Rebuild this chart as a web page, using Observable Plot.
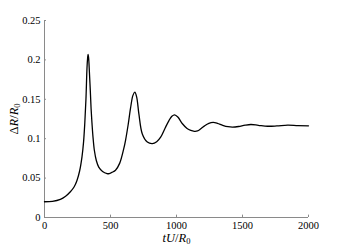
<!DOCTYPE html>
<html>
<head>
<meta charset="utf-8">
<script src="https://cdn.jsdelivr.net/npm/d3@7"></script>
<script src="https://cdn.jsdelivr.net/npm/@observablehq/plot@0.6"></script>
<style>
  html, body { margin: 0; padding: 0; background: #fff; }
  #chart svg { display: block; }
</style>
</head>
<body>
<div id="chart"></div>
<script>
const xTicks = [0, 500, 1000, 1500, 2000];
const yTicks = [0, 0.05, 0.1, 0.15, 0.2, 0.25];
const tU = [0, 60, 120, 160, 196, 225, 246, 266, 284, 296, 305, 314, 322, 327, 330, 334, 340, 347, 353, 360, 368, 378, 393, 411, 440, 474, 490, 510, 538, 570, 600, 614, 634, 652, 670, 684, 698, 715, 741, 779, 817, 850, 880, 915, 943, 965, 986, 1010, 1045, 1080, 1108, 1135, 1159, 1184, 1210, 1245, 1278, 1310, 1350, 1390, 1425, 1470, 1520, 1564, 1620, 1691, 1760, 1843, 1920, 2000];
const dR = [0.02, 0.0205, 0.023, 0.027, 0.0326, 0.039, 0.047, 0.059, 0.077, 0.096, 0.119, 0.15, 0.19, 0.203, 0.207, 0.203, 0.185, 0.161, 0.138, 0.119, 0.101, 0.085, 0.072, 0.064, 0.0585, 0.0558, 0.0556, 0.0572, 0.060, 0.069, 0.087, 0.098, 0.118, 0.139, 0.155, 0.159, 0.153, 0.1315, 0.106, 0.0957, 0.0937, 0.0962, 0.102, 0.114, 0.123, 0.1285, 0.1303, 0.1275, 0.119, 0.113, 0.1105, 0.1094, 0.1098, 0.1126, 0.116, 0.1195, 0.1206, 0.1195, 0.117, 0.1152, 0.1147, 0.1155, 0.1172, 0.118, 0.117, 0.1158, 0.1162, 0.1172, 0.1166, 0.1164];

const data = tU.map((t, i) => ({t, r: dR[i]}));
const serif = "Liberation Serif";
const axisColor = "#8a8a8a";

const chart = Plot.plot({
  width: 340,
  height: 248,
  marginLeft: 44,
  marginRight: 32,
  marginTop: 20,
  marginBottom: 31,
  style: {fontSize: "10.5px", color: "#000", background: "#fff"},
  x: {domain: [0, 2000]},
  y: {domain: [0, 0.25]},
  marks: [
    Plot.axisX({ticks: xTicks, tickSize: 0, tickPadding: 4, label: null, fontSize: 10.5, tickFormat: d => String(d)}),
    Plot.axisY({ticks: yTicks, tickSize: 0, tickPadding: 4, label: null, fontSize: 10.5, tickFormat: d => String(+d.toFixed(2))}),
    Plot.ruleY([0], {stroke: axisColor, strokeWidth: 1}),
    Plot.ruleX([0], {stroke: axisColor, strokeWidth: 1}),
    Plot.ruleX(xTicks, {x: d => d, y1: 0, y2: 0.003, stroke: axisColor}),
    Plot.ruleY(yTicks, {y: d => d, x1: 0, x2: 15, stroke: axisColor}),
    Plot.line(data, {x: "t", y: "r", stroke: "#000", strokeWidth: 1.3, curve: "catmull-rom"}),
    Plot.text(["tU/R0"], {x: 1000, y: 0, dy: 20, frameAnchor: "middle", text: d => d, className: "xlab", fontSize: 12.5}),
    Plot.text(["ΔR/R0"], {x: 0, y: 0.125, dx: -31, rotate: -90, text: d => d, className: "ylab", fontSize: 12.5})
  ]
});
document.getElementById("chart").appendChild(chart);

// upright Δ and digits, italic letters, subscript 0
function mathify(sel, parts) {
  const t = d3.select(chart).select(sel + " text");
  t.text(null);
  for (const [s, style, sub] of parts) {
    const sp = t.append("tspan").text(s).style("font-style", style);
    if (sub) sp.attr("font-size", "8.5").attr("dy", "2.5");
  }
}
mathify(".xlab", [["tU", "italic"], ["/", "normal"], ["R", "italic"], ["0", "normal", true]]);
mathify(".ylab", [["Δ", "normal"], ["R", "italic"], ["/", "normal"], ["R", "italic"], ["0", "normal", true]]);

d3.select(chart).style("font-family", "'Liberation Serif', 'Times New Roman', serif");
d3.select(chart).selectAll("g, text").attr("font-family", null).style("font-family", "'Liberation Serif', 'Times New Roman', serif");
</script>
</body>
</html>
